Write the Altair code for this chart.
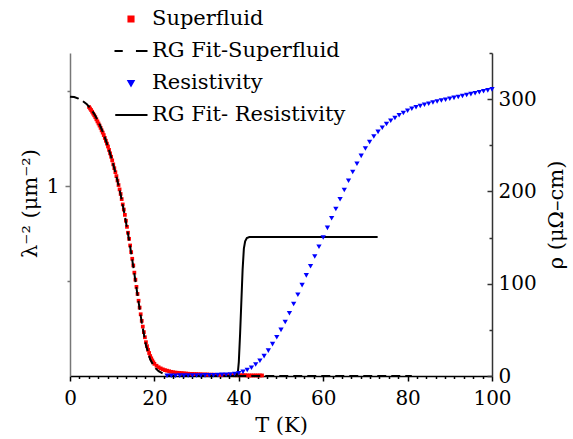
import altair as alt
import pandas as pd

FONT = "DejaVu Serif"
FS = 20
FT = 21
W, H = 422, 323

# ---------------- data ----------------
sf_T = [
    4.5, 4.75, 5.0, 5.25, 5.5, 5.75, 6.0, 6.25,
    6.5, 6.75, 7.0, 7.25, 7.5, 7.75, 8.0, 8.25,
    8.5, 8.75, 9.0, 9.25, 9.5, 9.75, 10.0, 10.25,
    10.5, 10.75, 11.0, 11.25, 11.5, 11.75, 12.0, 12.25,
    12.5, 12.75, 13.0, 13.25, 13.5, 13.75, 14.0, 14.25,
    14.5, 14.75, 15.0, 15.25, 15.5, 15.75, 16.0, 16.25,
    16.5, 16.75, 17.0, 17.25, 17.5, 17.75, 18.0, 18.25,
    18.5, 18.75, 19.0, 19.25, 19.5, 19.75, 20.0, 20.5,
    21.0, 21.5, 22.0, 22.5, 23.0, 23.5, 24.0, 24.5,
    25.0, 25.5, 26.0, 26.5, 27.0, 27.5, 28.0, 28.5,
    29.0, 29.5, 30.0, 30.5, 31.0, 31.5, 32.0, 32.5,
    33.0, 33.5, 34.0, 34.5, 35.0, 35.5, 36.0, 36.5,
    37.0, 37.5, 38.0, 38.5, 39.0, 39.5, 40.0, 40.5,
    41.0, 41.5, 42.0, 42.5, 43.0, 43.5, 44.0, 44.5,
    45.0, 45.5,
]
sf_lam = [
    1.416, 1.408, 1.400, 1.391, 1.381, 1.372, 1.362, 1.351,
    1.340, 1.329, 1.318, 1.306, 1.293, 1.281, 1.268, 1.253,
    1.238, 1.223, 1.208, 1.190, 1.172, 1.154, 1.135, 1.114,
    1.094, 1.073, 1.052, 1.029, 1.005, 0.982, 0.958, 0.931,
    0.903, 0.876, 0.848, 0.817, 0.785, 0.754, 0.722, 0.687,
    0.652, 0.617, 0.582, 0.544, 0.507, 0.469, 0.432, 0.396,
    0.360, 0.325, 0.290, 0.260, 0.231, 0.204, 0.178, 0.157,
    0.138, 0.121, 0.105, 0.093, 0.082, 0.072, 0.064, 0.054,
    0.046, 0.040, 0.035, 0.031, 0.028, 0.025, 0.022, 0.020,
    0.018, 0.017, 0.016, 0.015, 0.014, 0.013, 0.012, 0.011,
    0.011, 0.010, 0.010, 0.009, 0.009, 0.008, 0.008, 0.008,
    0.007, 0.007, 0.007, 0.006, 0.006, 0.006, 0.006, 0.005,
    0.005, 0.005, 0.005, 0.005, 0.004, 0.004, 0.004, 0.004,
    0.004, 0.004, 0.003, 0.003, 0.003, 0.003, 0.003, 0.003,
    0.003, 0.003,
]

fit_sf_T = [0, 1, 2, 3, 4, 5, 6, 7, 8, 9, 10, 11, 12, 13,
            14, 15, 16, 17, 18, 19, 20, 21, 22, 23, 24, 25, 81]
fit_sf_lam = [1.470, 1.468, 1.460, 1.447, 1.430, 1.405, 1.370, 1.325, 1.272,
              1.208, 1.134, 1.050, 0.955, 0.843, 0.716, 0.576, 0.426, 0.282,
              0.162, 0.088, 0.047, 0.025, 0.013, 0.006, 0.002, 0.0, 0.0]

res_T = [
    23, 24, 25, 26, 27, 28, 29, 30,
    31, 32, 33, 34, 35, 36, 37, 38,
    39, 40, 41, 42, 43, 44, 45, 46,
    47, 48, 49, 50, 51, 52, 53, 54,
    55, 56, 57, 58, 59, 60, 61, 62,
    63, 64, 65, 66, 67, 68, 69, 70,
    71, 72, 73, 74, 75, 76, 77, 78,
    79, 80, 81, 82, 83, 84, 85, 86,
    87, 88, 89, 90, 91, 92, 93, 94,
    95, 96, 97, 98, 99, 100,
]
res_rho = [
    0.3, 0.3, 0.3, 0.4, 0.4, 0.5, 0.5, 0.6,
    0.6, 0.7, 0.8, 0.9, 1.0, 1.2, 1.4, 1.7,
    2.2, 3.0, 4.5, 6.5, 9.0, 12.5, 16.5, 21.5,
    27.5, 34.5, 42.0, 50.0, 58.5, 68.0, 78.0, 88.0,
    98.5, 109.0, 119.0, 129.5, 140.0, 150.0, 160.5, 171.0,
    181.0, 191.5, 201.5, 211.5, 221.0, 230.0, 238.5, 246.5,
    253.5, 259.5, 264.5, 269.0, 273.0, 276.5, 279.5, 282.5,
    285.0, 287.5, 289.5, 291.2, 292.6, 293.9, 295.0, 296.3,
    297.5, 298.5, 299.4, 300.4, 301.4, 302.4, 303.4, 304.4,
    305.4, 306.4, 307.4, 308.5, 309.5, 310.6,
]

fit_res_T = [38.0, 39.4, 39.8, 40.0, 40.3, 40.6, 40.9, 41.2, 41.5, 41.9, 42.5, 72.9]
fit_res_rho = [0, 0, 5, 15, 45, 80, 115, 138, 146, 149.5, 150.5, 150.5]

legend_labels = ["Superfluid", "RG Fit-Superfluid", "Resistivity", "RG Fit- Resistivity"]
lam_ticks = [0.5, 1.0, 1.5]
rho_labels = [0, 100, 200, 300]
rho_ticks = [0, 50, 100, 150, 200, 250, 300, 350]

# ---------------- tables ----------------
sf_df = pd.DataFrame({"T": sf_T, "lam": sf_lam})
fit_sf_df = pd.DataFrame({"T": fit_sf_T, "lam": fit_sf_lam})
res_df = pd.DataFrame({"T": res_T, "rho": res_rho})
fit_res_df = pd.DataFrame({"T": fit_res_T, "rho": fit_res_rho})
leg_df = pd.DataFrame({"series": legend_labels,
                       "T": [None] * 4, "lam": [None] * 4})

# ---------------- scales & axes ----------------
x_scale = alt.Scale(domain=[0, 100], nice=False, zero=False)
lam_scale = alt.Scale(domain=[0, 1.7], nice=False, zero=False)
rho_scale = alt.Scale(domain=[0, 350], nice=False, zero=False)

x_minor = [round(i * 20 / 9, 4) for i in range(46)]
x_axis = alt.Axis(
    orient="bottom", values=x_minor, format="d",
    labelExpr="datum.value % 20 == 0 ? datum.label : ''",
    tickSize={"condition": {"test": "datum.value % 20 == 0", "value": 5}, "value": 2.5},
    labelOverlap=False, labelFlush=False, labelPadding=7,
    title="T (K)", titlePadding=6, titleFontSize=FT,
    domainColor="#000000", tickColor="#000000",
)
lam_axis = alt.Axis(
    orient="left", values=lam_ticks,
    labelExpr="datum.value == 1 ? '1' : ''",
    tickSize={"condition": {"test": "datum.value == 1", "value": 5}, "value": 3},
    labelOverlap=False, labelPadding=6,
    title="λ⁻² (μm⁻²)", titlePadding=6, titleY=150, titleFontSize=FT,
    domainColor="#777777", tickColor="#777777",
)
rho_tick_axis = alt.Axis(
    orient="left", offset=-W, values=rho_ticks, labels=False, domain=False,
    tickSize={"condition": {"test": "datum.value % 100 == 0", "value": 5}, "value": 3},
    title="", tickColor="#333333",
)
rho_axis = alt.Axis(
    orient="right", values=rho_labels, format="d", ticks=False, tickSize=0,
    labelPadding=6, labelOverlap=False,
    title="ρ (μΩ–cm)", titleAngle=270, titleBaseline="top", titlePadding=9,
    titleFontSize=FT, domainColor="#333333",
)

leg = alt.Legend(
    orient="none", legendX=45, legendY=-50, title=None,
    symbolSize=900, symbolStrokeWidth=2, labelFont=FONT, labelFontSize=FT,
    labelColor="black", labelOffset=5, rowPadding=6, padding=0, labelLimit=400,
)
fill_scale = alt.Scale(domain=legend_labels,
                       range=["#ff0000", "transparent", "#0000ff", "transparent"])
stroke_scale = alt.Scale(domain=legend_labels,
                         range=["#ff0000", "#000000", "#0000ff", "#000000"])
shape_scale = alt.Scale(domain=legend_labels, range=[
    "M-0.17,-0.17H0.17V0.17H-0.17Z",
    "M-1.1,0H-0.55M0.33,0H1.1",
    "M-0.17,-0.13H0.17L0,0.17Z",
    "M-1.05,0H1.1",
])

X = alt.X("T:Q", scale=x_scale, axis=x_axis)

# ---------------- layers ----------------
red = alt.Chart(sf_df).mark_square(size=14, color="#ff0000", opacity=1).encode(
    x=X, y=alt.Y("lam:Q", scale=lam_scale, axis=lam_axis))
dash = alt.Chart(fit_sf_df).mark_line(color="black", strokeWidth=2, strokeDash=[9, 5]).encode(
    x=X, y=alt.Y("lam:Q", scale=lam_scale, axis=lam_axis))
legend_layer = alt.Chart(leg_df).mark_point(opacity=1, strokeWidth=2).encode(
    x=X, y=alt.Y("lam:Q", scale=lam_scale, axis=lam_axis),
    fill=alt.Fill("series:N", scale=fill_scale, legend=leg),
    stroke=alt.Stroke("series:N", scale=stroke_scale, legend=leg),
    shape=alt.Shape("series:N", scale=shape_scale, legend=leg),
)

solid = alt.Chart(fit_res_df).mark_line(color="black", strokeWidth=2).encode(
    x=X, y=alt.Y("rho:Q", scale=rho_scale, axis=rho_tick_axis))
blue = alt.Chart(res_df).mark_point(shape="triangle-down", filled=True, size=28,
                                    color="#0000ff", opacity=1).encode(
    x=X, y=alt.Y("rho:Q", scale=rho_scale, axis=rho_axis))

lam_layer = alt.layer(red, dash, legend_layer)
rho_layer = alt.layer(solid, blue)

chart = alt.layer(lam_layer, rho_layer).resolve_scale(y="independent").properties(
    width=W, height=H,
    autosize=alt.AutoSizeParams(type="none"),
    padding={"left": 70, "top": 53, "right": 81, "bottom": 63},
    background="white",
).configure_view(strokeWidth=0).configure_axis(
    labelFont=FONT, titleFont=FONT, labelFontSize=FS, titleFontSize=FT,
    labelColor="black", titleColor="black", titleFontWeight="normal",
    grid=False, domainWidth=1.5, tickWidth=1.5,
)

chart.save("out.html", embed_options={"renderer": "svg", "actions": False})
